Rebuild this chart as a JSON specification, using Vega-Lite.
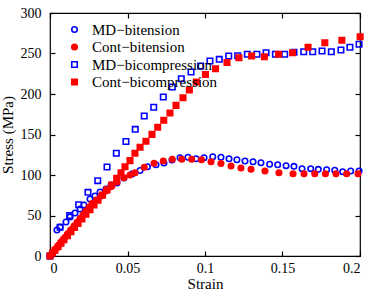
{
"$schema": "https://vega.github.io/schema/vega-lite/v6.json",
"width": 310, "height": 243,
"autosize": {"type": "none"},
"padding": {"left": 50, "top": 13, "right": 14, "bottom": 36},
"background": "white",
"config": {
  "font": "Liberation Serif",
  "view": {"stroke": "black", "strokeWidth": 1.2},
  "axis": {"titleFontWeight": "normal"},
  "style": {"guide-title": {"fontWeight": "normal"}}
},
"datasets": {
 "pts": [
  {"s":"MD−bitension","strain":0,"stress":0},
  {"s":"MD−bitension","strain":0.0045,"stress":32.1},
  {"s":"MD−bitension","strain":0.0065,"stress":35.8},
  {"s":"MD−bitension","strain":0.0103,"stress":42},
  {"s":"MD−bitension","strain":0.0129,"stress":48.1},
  {"s":"MD−bitension","strain":0.0161,"stress":53.1},
  {"s":"MD−bitension","strain":0.0194,"stress":58},
  {"s":"MD−bitension","strain":0.0219,"stress":63},
  {"s":"MD−bitension","strain":0.0258,"stress":70.4},
  {"s":"MD−bitension","strain":0.029,"stress":74.1},
  {"s":"MD−bitension","strain":0.0323,"stress":79},
  {"s":"MD−bitension","strain":0.0361,"stress":82.7},
  {"s":"MD−bitension","strain":0.0394,"stress":87.7},
  {"s":"MD−bitension","strain":0.0432,"stress":90.1},
  {"s":"MD−bitension","strain":0.0477,"stress":96.3},
  {"s":"MD−bitension","strain":0.0529,"stress":101.2},
  {"s":"MD−bitension","strain":0.0581,"stress":105.6},
  {"s":"MD−bitension","strain":0.0629,"stress":110.2},
  {"s":"MD−bitension","strain":0.0684,"stress":112.7},
  {"s":"MD−bitension","strain":0.0735,"stress":114.8},
  {"s":"MD−bitension","strain":0.0787,"stress":118.5},
  {"s":"MD−bitension","strain":0.0839,"stress":121.4},
  {"s":"MD−bitension","strain":0.089,"stress":121.9},
  {"s":"MD−bitension","strain":0.0942,"stress":120.1},
  {"s":"MD−bitension","strain":0.0994,"stress":121.4},
  {"s":"MD−bitension","strain":0.105,"stress":122.6},
  {"s":"MD−bitension","strain":0.1103,"stress":121.9},
  {"s":"MD−bitension","strain":0.1155,"stress":120.1},
  {"s":"MD−bitension","strain":0.1206,"stress":118.9},
  {"s":"MD−bitension","strain":0.1258,"stress":117.3},
  {"s":"MD−bitension","strain":0.131,"stress":116.4},
  {"s":"MD−bitension","strain":0.1361,"stress":115.2},
  {"s":"MD−bitension","strain":0.1417,"stress":113.2},
  {"s":"MD−bitension","strain":0.1469,"stress":112.7},
  {"s":"MD−bitension","strain":0.1523,"stress":111.5},
  {"s":"MD−bitension","strain":0.1574,"stress":110.7},
  {"s":"MD−bitension","strain":0.1626,"stress":107.8},
  {"s":"MD−bitension","strain":0.1682,"stress":107.8},
  {"s":"MD−bitension","strain":0.1731,"stress":107},
  {"s":"MD−bitension","strain":0.1785,"stress":106.5},
  {"s":"MD−bitension","strain":0.1837,"stress":105.8},
  {"s":"MD−bitension","strain":0.1888,"stress":104.1},
  {"s":"MD−bitension","strain":0.194,"stress":104.9},
  {"s":"MD−bitension","strain":0.1994,"stress":104.9},
  {"s":"Cont−bitension","strain":0,"stress":0},
  {"s":"Cont−bitension","strain":0.0019,"stress":4.6},
  {"s":"Cont−bitension","strain":0.0039,"stress":9.3},
  {"s":"Cont−bitension","strain":0.0058,"stress":13.8},
  {"s":"Cont−bitension","strain":0.0077,"stress":18.5},
  {"s":"Cont−bitension","strain":0.0097,"stress":23.1},
  {"s":"Cont−bitension","strain":0.0116,"stress":27.8},
  {"s":"Cont−bitension","strain":0.0135,"stress":32.3},
  {"s":"Cont−bitension","strain":0.0155,"stress":37},
  {"s":"Cont−bitension","strain":0.0174,"stress":41.6},
  {"s":"Cont−bitension","strain":0.0194,"stress":46.3},
  {"s":"Cont−bitension","strain":0.0213,"stress":50.9},
  {"s":"Cont−bitension","strain":0.0232,"stress":55.6},
  {"s":"Cont−bitension","strain":0.0252,"stress":60.1},
  {"s":"Cont−bitension","strain":0.0271,"stress":64.8},
  {"s":"Cont−bitension","strain":0.03,"stress":69.1},
  {"s":"Cont−bitension","strain":0.0329,"stress":74.1},
  {"s":"Cont−bitension","strain":0.0361,"stress":80.2},
  {"s":"Cont−bitension","strain":0.0394,"stress":85.6},
  {"s":"Cont−bitension","strain":0.0432,"stress":91.4},
  {"s":"Cont−bitension","strain":0.0477,"stress":96.7},
  {"s":"Cont−bitension","strain":0.0516,"stress":100},
  {"s":"Cont−bitension","strain":0.0548,"stress":102.8},
  {"s":"Cont−bitension","strain":0.0608,"stress":109.5},
  {"s":"Cont−bitension","strain":0.0671,"stress":114.4},
  {"s":"Cont−bitension","strain":0.0731,"stress":117.3},
  {"s":"Cont−bitension","strain":0.0789,"stress":119.4},
  {"s":"Cont−bitension","strain":0.085,"stress":119.4},
  {"s":"Cont−bitension","strain":0.0914,"stress":119.4},
  {"s":"Cont−bitension","strain":0.0977,"stress":118.8},
  {"s":"Cont−bitension","strain":0.1039,"stress":116.4},
  {"s":"Cont−bitension","strain":0.1103,"stress":114.2},
  {"s":"Cont−bitension","strain":0.1168,"stress":111.1},
  {"s":"Cont−bitension","strain":0.1232,"stress":108.6},
  {"s":"Cont−bitension","strain":0.1297,"stress":107},
  {"s":"Cont−bitension","strain":0.1387,"stress":104.9},
  {"s":"Cont−bitension","strain":0.1477,"stress":102.8},
  {"s":"Cont−bitension","strain":0.1568,"stress":101.6},
  {"s":"Cont−bitension","strain":0.1639,"stress":101.6},
  {"s":"Cont−bitension","strain":0.1708,"stress":101.6},
  {"s":"Cont−bitension","strain":0.1777,"stress":101.6},
  {"s":"Cont−bitension","strain":0.1845,"stress":101.6},
  {"s":"Cont−bitension","strain":0.1914,"stress":101.6},
  {"s":"Cont−bitension","strain":0.1987,"stress":101.6},
  {"s":"MD−bicompression","strain":0,"stress":0},
  {"s":"MD−bicompression","strain":0.0065,"stress":35.4},
  {"s":"MD−bicompression","strain":0.0127,"stress":49.8},
  {"s":"MD−bicompression","strain":0.0185,"stress":63.3},
  {"s":"MD−bicompression","strain":0.0245,"stress":78.6},
  {"s":"MD−bicompression","strain":0.0308,"stress":93},
  {"s":"MD−bicompression","strain":0.0368,"stress":109.9},
  {"s":"MD−bicompression","strain":0.0428,"stress":126.8},
  {"s":"MD−bicompression","strain":0.049,"stress":141.4},
  {"s":"MD−bicompression","strain":0.055,"stress":156.4},
  {"s":"MD−bicompression","strain":0.0608,"stress":172.8},
  {"s":"MD−bicompression","strain":0.0669,"stress":183.6},
  {"s":"MD−bicompression","strain":0.0731,"stress":196.3},
  {"s":"MD−bicompression","strain":0.0789,"stress":208.6},
  {"s":"MD−bicompression","strain":0.0847,"stress":218.9},
  {"s":"MD−bicompression","strain":0.091,"stress":227.2},
  {"s":"MD−bicompression","strain":0.0972,"stress":234.6},
  {"s":"MD−bicompression","strain":0.1032,"stress":240.7},
  {"s":"MD−bicompression","strain":0.1092,"stress":242.8},
  {"s":"MD−bicompression","strain":0.1153,"stress":246.9},
  {"s":"MD−bicompression","strain":0.1211,"stress":247.3},
  {"s":"MD−bicompression","strain":0.1273,"stress":249},
  {"s":"MD−bicompression","strain":0.1335,"stress":249},
  {"s":"MD−bicompression","strain":0.1394,"stress":251},
  {"s":"MD−bicompression","strain":0.1454,"stress":249},
  {"s":"MD−bicompression","strain":0.1514,"stress":249},
  {"s":"MD−bicompression","strain":0.1574,"stress":251.5},
  {"s":"MD−bicompression","strain":0.1637,"stress":252.2},
  {"s":"MD−bicompression","strain":0.1695,"stress":252.2},
  {"s":"MD−bicompression","strain":0.1755,"stress":253.1},
  {"s":"MD−bicompression","strain":0.1815,"stress":252.2},
  {"s":"MD−bicompression","strain":0.1877,"stress":254.3},
  {"s":"MD−bicompression","strain":0.1935,"stress":257.7},
  {"s":"MD−bicompression","strain":0.1994,"stress":261.4},
  {"s":"Cont−bicompression","strain":0,"stress":0},
  {"s":"Cont−bicompression","strain":0.0016,"stress":3.6},
  {"s":"Cont−bicompression","strain":0.0032,"stress":7.2},
  {"s":"Cont−bicompression","strain":0.0052,"stress":11.5},
  {"s":"Cont−bicompression","strain":0.0071,"stress":15.8},
  {"s":"Cont−bicompression","strain":0.009,"stress":20},
  {"s":"Cont−bicompression","strain":0.0113,"stress":25.1},
  {"s":"Cont−bicompression","strain":0.0135,"stress":30.1},
  {"s":"Cont−bicompression","strain":0.0158,"stress":35.1},
  {"s":"Cont−bicompression","strain":0.0181,"stress":40.1},
  {"s":"Cont−bicompression","strain":0.0206,"stress":45.8},
  {"s":"Cont−bicompression","strain":0.0232,"stress":51.6},
  {"s":"Cont−bicompression","strain":0.0258,"stress":57.3},
  {"s":"Cont−bicompression","strain":0.0284,"stress":63},
  {"s":"Cont−bicompression","strain":0.031,"stress":68.8},
  {"s":"Cont−bicompression","strain":0.0339,"stress":75.2},
  {"s":"Cont−bicompression","strain":0.0368,"stress":81.6},
  {"s":"Cont−bicompression","strain":0.0398,"stress":87.7},
  {"s":"Cont−bicompression","strain":0.043,"stress":95.9},
  {"s":"Cont−bicompression","strain":0.0458,"stress":102.8},
  {"s":"Cont−bicompression","strain":0.0484,"stress":110.2},
  {"s":"Cont−bicompression","strain":0.0516,"stress":117.7},
  {"s":"Cont−bicompression","strain":0.0548,"stress":126.8},
  {"s":"Cont−bicompression","strain":0.0581,"stress":134.2},
  {"s":"Cont−bicompression","strain":0.0619,"stress":141.6},
  {"s":"Cont−bicompression","strain":0.0658,"stress":150.2},
  {"s":"Cont−bicompression","strain":0.0695,"stress":158.9},
  {"s":"Cont−bicompression","strain":0.0734,"stress":167.5},
  {"s":"Cont−bicompression","strain":0.0774,"stress":176.5},
  {"s":"Cont−bicompression","strain":0.0813,"stress":186},
  {"s":"Cont−bicompression","strain":0.0858,"stress":195.4},
  {"s":"Cont−bicompression","strain":0.0899,"stress":204.9},
  {"s":"Cont−bicompression","strain":0.0944,"stress":214.8},
  {"s":"Cont−bicompression","strain":0.1003,"stress":224.1},
  {"s":"Cont−bicompression","strain":0.1068,"stress":231.2},
  {"s":"Cont−bicompression","strain":0.1142,"stress":238.9},
  {"s":"Cont−bicompression","strain":0.1219,"stress":244.8},
  {"s":"Cont−bicompression","strain":0.1301,"stress":246.9},
  {"s":"Cont−bicompression","strain":0.1383,"stress":246},
  {"s":"Cont−bicompression","strain":0.1475,"stress":249.1},
  {"s":"Cont−bicompression","strain":0.1565,"stress":251},
  {"s":"Cont−bicompression","strain":0.1665,"stress":257.8},
  {"s":"Cont−bicompression","strain":0.1773,"stress":263.3},
  {"s":"Cont−bicompression","strain":0.1883,"stress":266.4},
  {"s":"Cont−bicompression","strain":0.2001,"stress":270.7}
 ]
},
"data": {"name": "pts"},
"layer": [
 {
  "mark": {"type": "point", "size": 30, "strokeWidth": 1.6, "opacity": 1, "clip": false},
  "encoding": {
   "x": {"field": "strain", "type": "quantitative", "scale": {"domain": [0, 0.2], "nice": false, "zero": false},
         "axis": {"orient": "bottom", "values": [0, 0.05, 0.1, 0.15, 0.2], "format": "~g", "title": "Strain",
                  "grid": false, "domain": false, "ticks": true, "tickSize": 5, "tickColor": "black", "tickWidth": 1.2, "offset": -5,
                  "labelPadding": 5, "labelFont": "Liberation Serif", "labelFontSize": 14, "labelColor": "black",
                  "titleFont": "Liberation Serif", "titleFontSize": 15, "titleFontWeight": "normal", "titleColor": "black", "titlePadding": 1}},
   "y": {"field": "stress", "type": "quantitative", "scale": {"domain": [0, 300], "nice": false},
         "axis": {"orient": "left", "values": [0, 50, 100, 150, 200, 250, 300], "title": "Stress (MPa)",
                  "grid": false, "domain": false, "ticks": true, "tickSize": 5, "tickColor": "black", "tickWidth": 1.2, "offset": -5,
                  "labelPadding": 9, "labelFont": "Liberation Serif", "labelFontSize": 14, "labelColor": "black",
                  "titleFont": "Liberation Serif", "titleFontSize": 15, "titleFontWeight": "normal", "titleColor": "black", "titlePadding": 5}},
   "shape": {"field": "s", "type": "nominal", "scale": {"domain": ["MD−bitension", "Cont−bitension", "MD−bicompression", "Cont−bicompression"], "range": ["circle", "circle", "square", "square"]}, "legend": {"title": null}},
   "fill": {"field": "s", "type": "nominal", "scale": {"domain": ["MD−bitension", "Cont−bitension", "MD−bicompression", "Cont−bicompression"], "range": ["transparent", "#ff0000", "transparent", "#ff0000"]}, "legend": {"title": null}},
   "stroke": {"field": "s", "type": "nominal", "scale": {"domain": ["MD−bitension", "Cont−bitension", "MD−bicompression", "Cont−bicompression"], "range": ["#0000ff", "#ff0000", "#0000ff", "#ff0000"]},
     "legend": {"title": null, "orient": "none", "legendX": 17, "legendY": 9, "labelFontSize": 15, "labelFont": "Liberation Serif", "labelColor": "black", "symbolSize": 30, "symbolStrokeWidth": 1.6, "labelOffset": 10, "rowPadding": 1.5, "padding": 0}}
  }
 },
 {
  "mark": {"type": "point", "opacity": 0},
  "encoding": {
   "x": {"field": "strain", "type": "quantitative", "axis": {"orient": "top", "values": [0, 0.05, 0.1, 0.15, 0.2], "labels": false, "title": null, "grid": false, "domain": false, "ticks": true, "tickSize": 5, "tickColor": "black", "tickWidth": 1.2, "offset": -5}},
   "y": {"field": "stress", "type": "quantitative", "axis": {"orient": "right", "values": [0, 50, 100, 150, 200, 250, 300], "labels": false, "title": null, "grid": false, "domain": false, "ticks": true, "tickSize": 5, "tickColor": "black", "tickWidth": 1.2, "offset": -5}}
  }
 }
],
"resolve": {"axis": {"x": "independent", "y": "independent"}}
}
